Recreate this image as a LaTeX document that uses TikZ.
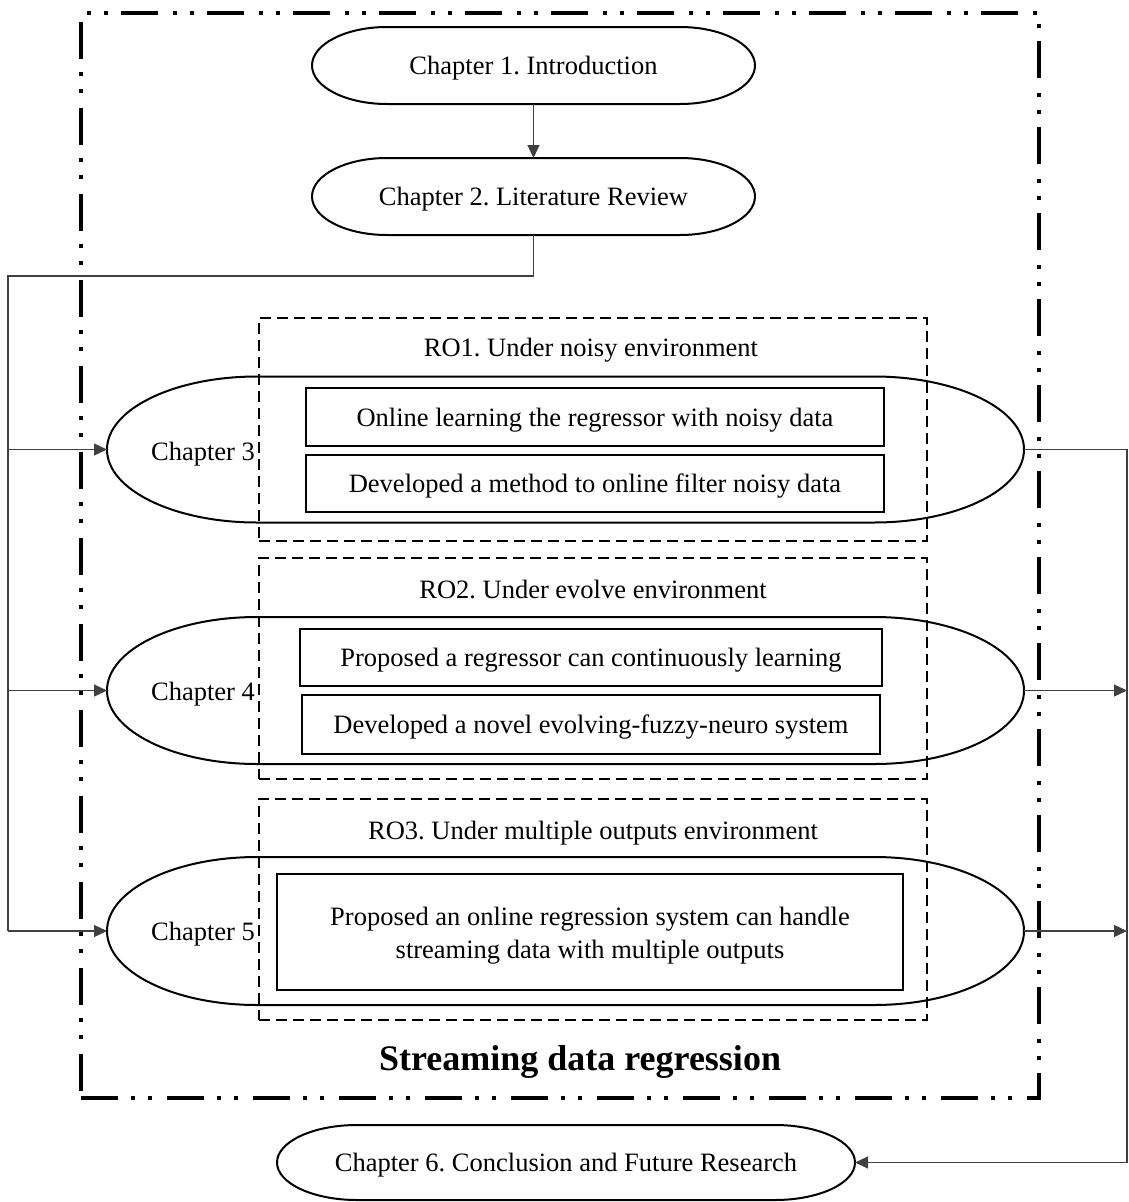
\documentclass[tikz,border=0pt]{standalone}
\usepackage{fontspec}
\setmainfont{Liberation Serif}
\usetikzlibrary{arrows.meta,calc}
\newcommand\stadiumpath[2]{%
  \draw[stadline] let \p1=(#1.north west), \p2=(#1.south east), \n1={(\y1-\y2)/2} in
   (\x1+#2,\y1) -- (\x2-#2,\y1) arc[start angle=90,end angle=-90,x radius=#2,y radius=\n1]
   -- (\x1+#2,\y2) arc[start angle=270,end angle=90,x radius=#2,y radius=\n1] -- cycle;}
\tikzset{
  every node/.style={font=\fontsize{26.5}{33}\selectfont, inner sep=0pt, outer sep=0pt},
  lbl/.style={text height=24pt, text depth=6pt},
  chapbox/.style={rectangle, draw=none, lbl},
  stadline/.style={line width=2pt},
  innerbox/.style={rectangle, draw, line width=2pt, lbl},
  robox/.style={rectangle, draw, line width=1.5pt, dash pattern=on 11pt off 6pt},
  framebox/.style={rectangle, draw, line width=4pt,
    dash pattern=on 37pt off 13pt on 4pt off 13pt on 4pt off 15pt},
  conn/.style={line width=1.3pt, draw=black!75},
  arr/.style={conn, -{Triangle[length=13pt,width=12pt]}},
}
\begin{document}
\frenchspacing
\begin{tikzpicture}[x=1pt,y=1pt]
\useasboundingbox (0,0) rectangle (1129,-1202);
% outer frame
\node[framebox, minimum width=958pt, minimum height=1085pt] (frame) at (560,-555.5) {};
\node[font=\fontsize{36}{40}\selectfont\bfseries, text height=30pt, text depth=6pt] (title) at (580,-1058) {Streaming data regression};
% top chapters
\node[chapbox, minimum width=443pt, minimum height=77pt] (c1) at (533.5,-65.5) {Chapter 1. Introduction};
\stadiumpath{c1}{75pt}
\node[chapbox, minimum width=443pt, minimum height=77pt] (c2) at (533.5,-196.5) {Chapter 2. Literature Review};
\stadiumpath{c2}{75pt}
% RO boxes
\node[robox, minimum width=668pt, minimum height=223pt] (ro1) at (593,-429.5) {};
\node[lbl] (ro1t) at (591,-347) {RO1. Under noisy environment};
\node[robox, minimum width=668pt, minimum height=221pt] (ro2) at (593,-668.5) {};
\node[lbl] (ro2t) at (593,-589) {RO2. Under evolve environment};
\node[robox, minimum width=668pt, minimum height=221pt] (ro3) at (593,-909.5) {};
\node[lbl] (ro3t) at (593,-830) {RO3. Under multiple outputs environment};
% chapter 3-5
\node[chapbox, minimum width=917pt, minimum height=146pt] (c3) at (565.5,-449.5) {};
\stadiumpath{c3}{150pt}
\node[lbl] (c3t) at (203,-451) {Chapter 3};
\node[chapbox, minimum width=917pt, minimum height=147pt] (c4) at (565.5,-690.5) {};
\stadiumpath{c4}{150pt}
\node[lbl] (c4t) at (203,-691) {Chapter 4};
\node[chapbox, minimum width=917pt, minimum height=148pt] (c5) at (565.5,-931) {};
\stadiumpath{c5}{150pt}
\node[lbl] (c5t) at (203,-931) {Chapter 5};
% inner boxes
\node[innerbox, minimum width=578pt, minimum height=58pt] (b31) at (595,-417) {Online learning the regressor with noisy data};
\node[innerbox, minimum width=578pt, minimum height=57pt] (b32) at (595,-483.5) {Developed a method to online filter noisy data};
\node[innerbox, minimum width=582pt, minimum height=57pt] (b41) at (591,-657.5) {Proposed a regressor can continuously learning};
\node[innerbox, minimum width=578pt, minimum height=59pt] (b42) at (591,-724.5) {Developed a novel evolving-fuzzy-neuro system};
\node[rectangle, draw, line width=2pt, minimum width=626pt, minimum height=116pt] (b5) at (590,-932) {};
\node[align=center] (b5t) at (590,-936) {Proposed an online regression system can handle\\streaming data with multiple outputs};
% chapter 6
\node[chapbox, minimum width=578pt, minimum height=75pt] (c6) at (566,-1162.5) {Chapter 6. Conclusion and Future Research};
\stadiumpath{c6}{80pt}
% connectors
\coordinate (ltop) at (8,-276);
\coordinate (lbot) at (8,-931);
\coordinate (rtop) at (1127,-449.5);
\draw[arr] (c1.south) -- (c2.north);
\draw[conn] (c2.south) |- (ltop) -- (lbot);
\draw[arr] (ltop |- c3.west) -- (c3.west);
\draw[arr] (ltop |- c4.west) -- (c4.west);
\draw[arr] (lbot) -- (c5.west);
\draw[arr] (c3.east) -- (rtop) |- (c6.east);
\draw[arr] (c4.east) -- (rtop |- c4.east);
\draw[arr] (c5.east) -- (rtop |- c5.east);
\end{tikzpicture}
\end{document}
